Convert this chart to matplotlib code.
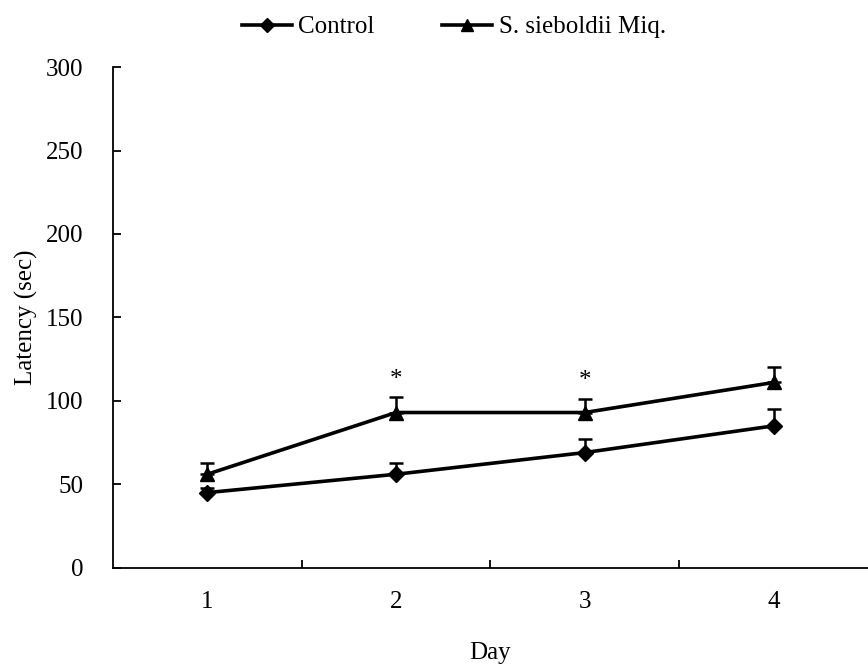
import numpy as np
import matplotlib
matplotlib.use("Agg")
import matplotlib.pyplot as plt
from matplotlib.ticker import FixedLocator
from matplotlib.lines import Line2D

plt.rcParams['font.family'] = ['Liberation Serif', 'DejaVu Serif']

days = [1, 2, 3, 4]
day_labels = ["1", "2", "3", "4"]
control = [45, 56, 69, 85]
control_se = [3, 7, 8, 10]
sieboldii = [56, 93, 93, 111]
sieboldii_se = [7, 9, 8, 9]
significant = [False, True, True, False]

FS = 18

fig = plt.figure(figsize=(8.68, 6.64), dpi=100)
ax = fig.add_axes([0.130, 0.145, 0.870, 0.754])

x = np.array(days)
series = [
    (control, control_se, "D", 8, "Control"),
    (sieboldii, sieboldii_se, "^", 10, "S. sieboldii Miq."),
]
handles = []
for vals, se, mk, ms, name in series:
    ax.errorbar(x, vals, yerr=[np.zeros(4), se], fmt="none", ecolor="black",
                elinewidth=1.8, capsize=5, capthick=1.8, zorder=2)
    ax.plot(x, vals, color="black", lw=2.6, marker=mk, markersize=ms, zorder=3)
    handles.append(Line2D([], [], color="black", lw=2.6, marker=mk,
                          markersize=ms * 0.85, label=name))

# significance marks above the treated group
for d, m, s, sig in zip(days, sieboldii, sieboldii_se, significant):
    if sig:
        ax.text(d, m + s + 4, "*", ha="center", va="bottom", fontsize=FS)

ax.set_xlim(0.5, 4.5)
ax.set_ylim(0, 300)
ax.set_yticks(range(0, 301, 50))
ax.set_xticks(days)
ax.set_xticklabels(day_labels)
ax.xaxis.set_minor_locator(FixedLocator([1.5, 2.5, 3.5]))
ax.tick_params(axis="x", which="major", length=0, pad=17, labelsize=FS)
ax.tick_params(axis="x", which="minor", direction="in", length=6, width=1.3)
ax.tick_params(axis="y", direction="in", length=6, width=1.3, pad=21, labelsize=FS)

for side in ["top", "right"]:
    ax.spines[side].set_visible(False)
for side in ["left", "bottom"]:
    ax.spines[side].set_linewidth(1.3)

ax.set_xlabel("Day", fontsize=FS, labelpad=21)
ax.set_ylabel("Latency (sec)", fontsize=FS, labelpad=6)

fig.legend(handles=handles, loc="upper center", bbox_to_anchor=(0.523, 1.01), ncol=2,
           frameon=False, fontsize=FS, handlelength=2.0, handletextpad=0.25,
           columnspacing=2.7)

fig.savefig("out.png", dpi=100)
